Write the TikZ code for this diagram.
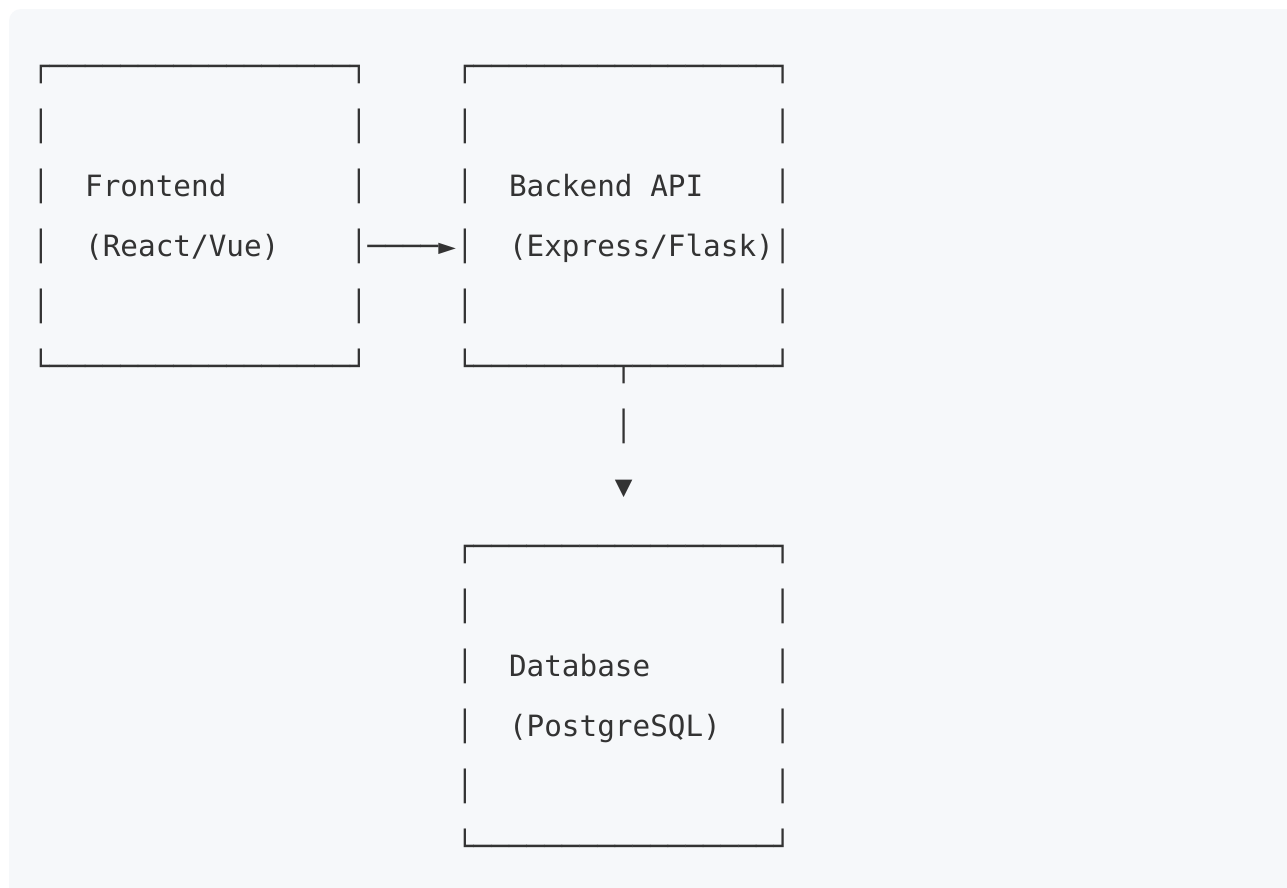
\documentclass[tikz,border=0pt]{standalone}
\usepackage{fontspec}
\newfontfamily\artfamily{DejaVu Sans Mono}
\definecolor{bgcol}{HTML}{F6F8FA}
\definecolor{artcol}{HTML}{333333}
\tikzset{
  art/.style={anchor=base west, inner sep=0pt, outer sep=0pt, text=artcol,
    font={\artfamily\fontsize{29.33pt}{60pt}\selectfont}},
}
\newcommand\artrow[4]{\node[art] (#1) at ({32.2+#2*17.66},{76.2+#3*60}) {#4};}
\begin{document}
\begin{tikzpicture}[x=1pt,y=-1pt]
\useasboundingbox (0,0) rectangle (1287,887);
\fill[white] (0,0) rectangle (1287,887);
\fill[bgcol, rounded corners=12pt] (9,9) rectangle (1320,920);
% Frontend box
\artrow{fe0}{0}{0}{┌─────────────────┐}
\artrow{fe1}{0}{1}{│~~~~~~~~~~~~~~~~~│}
\artrow{fe2}{0}{2}{│~~Frontend~~~~~~~│}
\artrow{fe3}{0}{3}{│~~(React/Vue)~~~~│}
\artrow{fe4}{0}{4}{│~~~~~~~~~~~~~~~~~│}
\artrow{fe5}{0}{5}{└─────────────────┘}
% arrow Frontend -> Backend
\artrow{arr1}{19}{3}{────►}
% Backend box
\artrow{be0}{24}{0}{┌─────────────────┐}
\artrow{be1}{24}{1}{│~~~~~~~~~~~~~~~~~│}
\artrow{be2}{24}{2}{│~~Backend~API~~~~│}
\artrow{be3}{24}{3}{│~~(Express/Flask)│}
\artrow{be4}{24}{4}{│~~~~~~~~~~~~~~~~~│}
\artrow{be5}{24}{5}{└────────┬────────┘}
% arrow Backend -> Database
\artrow{arr2a}{33}{6}{│}
\artrow{arr2b}{33}{7}{▼}
% Database box
\artrow{db0}{24}{8}{┌─────────────────┐}
\artrow{db1}{24}{9}{│~~~~~~~~~~~~~~~~~│}
\artrow{db2}{24}{10}{│~~Database~~~~~~~│}
\artrow{db3}{24}{11}{│~~(PostgreSQL)~~~│}
\artrow{db4}{24}{12}{│~~~~~~~~~~~~~~~~~│}
\artrow{db5}{24}{13}{└─────────────────┘}
\end{tikzpicture}
\end{document}
